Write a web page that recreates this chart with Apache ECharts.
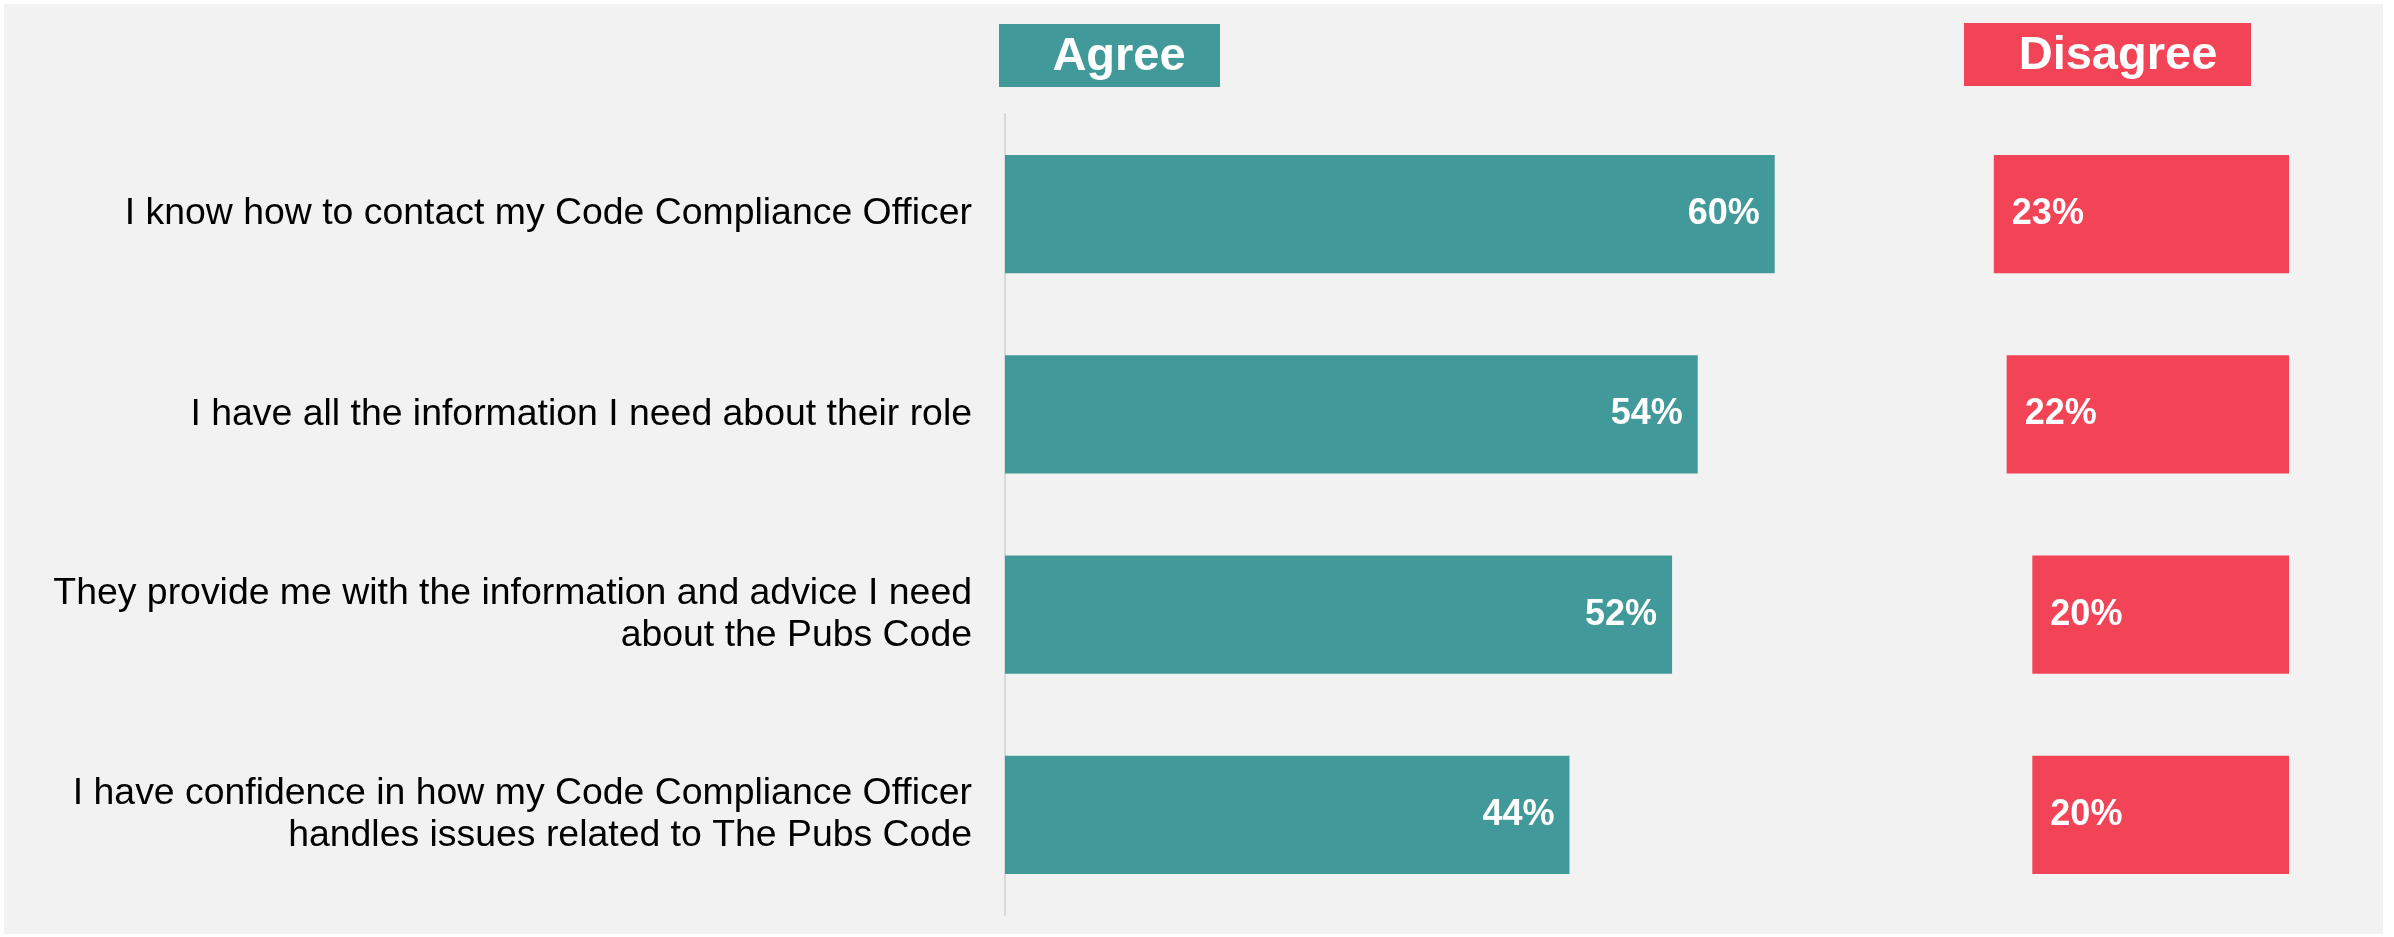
<!DOCTYPE html>
<html>
<head>
<meta charset="utf-8">
<script src="https://cdn.jsdelivr.net/npm/echarts@6/dist/echarts.min.js"></script>
<style>
  html, body { margin: 0; padding: 0; background: #ffffff; }
  #chart { width: 2394px; height: 937px; }
</style>
</head>
<body>
<div id="chart"></div>
<script>
// Survey statements and share of respondents (%)
const statements = [
  'I know how to contact my Code Compliance Officer',
  'I have all the information I need about their role',
  'They provide me with the information and advice I need\nabout the Pubs Code',
  'I have confidence in how my Code Compliance Officer\nhandles issues related to The Pubs Code'
];
const agreeValues = [60, 54, 52, 44];
const disagreeValues = [23, 22, 20, 20];
const headerLabels = ['Agree', 'Disagree'];

const TEAL = '#42999a';
const RED = '#f24456';
const FONT = '"Liberation Sans", Arial, sans-serif';

const chart = echarts.init(document.getElementById('chart'), null, { renderer: 'canvas' });

const pctLabel = (pos, dist) => ({
  show: true,
  position: pos,
  distance: dist,
  color: '#ffffff',
  fontFamily: FONT,
  fontWeight: 'bold',
  fontSize: 36,
  formatter: p => p.value + '%'
});

chart.setOption({
  backgroundColor: '#ffffff',
  animation: false,
  graphic: [
    { type: 'rect', z: -10, shape: { x: 4, y: 4, width: 2379, height: 930 }, style: { fill: '#f2f2f2' } },
    { type: 'rect', shape: { x: 999, y: 24, width: 221, height: 63 }, style: { fill: TEAL } },
    { type: 'text', x: 1119, y: 57, style: { text: headerLabels[0], fill: '#ffffff', font: 'bold 47px ' + FONT, align: 'center', verticalAlign: 'middle' } },
    { type: 'rect', shape: { x: 1964, y: 23, width: 287, height: 63 }, style: { fill: RED } },
    { type: 'text', x: 2118, y: 56, style: { text: headerLabels[1], fill: '#ffffff', font: 'bold 47px ' + FONT, align: 'center', verticalAlign: 'middle' } }
  ],
  grid: [
    { left: 1005, top: 114, width: 898, height: 801 },
    { left: 1904, top: 114, width: 385, height: 801 }
  ],
  xAxis: [
    { type: 'value', gridIndex: 0, min: 0, max: 70, show: false },
    { type: 'value', gridIndex: 1, min: 0, max: 30, inverse: true, show: false }
  ],
  yAxis: [
    {
      type: 'category', gridIndex: 0, data: statements, inverse: true,
      axisLine: { show: true, lineStyle: { color: '#d9d9d9', width: 2 } },
      axisTick: { show: false },
      axisLabel: { margin: 33, color: '#000000', fontFamily: FONT, fontSize: 37.4, lineHeight: 42, align: 'right' }
    },
    {
      type: 'category', gridIndex: 1, data: statements, inverse: true,
      axisLine: { show: false }, axisTick: { show: false }, axisLabel: { show: false }
    }
  ],
  series: [
    {
      name: headerLabels[0], type: 'bar', xAxisIndex: 0, yAxisIndex: 0,
      data: agreeValues, barCategoryGap: '41%',
      itemStyle: { color: TEAL },
      label: pctLabel('insideRight', 15)
    },
    {
      name: headerLabels[1], type: 'bar', xAxisIndex: 1, yAxisIndex: 1,
      data: disagreeValues, barCategoryGap: '41%',
      itemStyle: { color: RED },
      label: pctLabel('insideLeft', 18)
    }
  ]
});
</script>
</body>
</html>
